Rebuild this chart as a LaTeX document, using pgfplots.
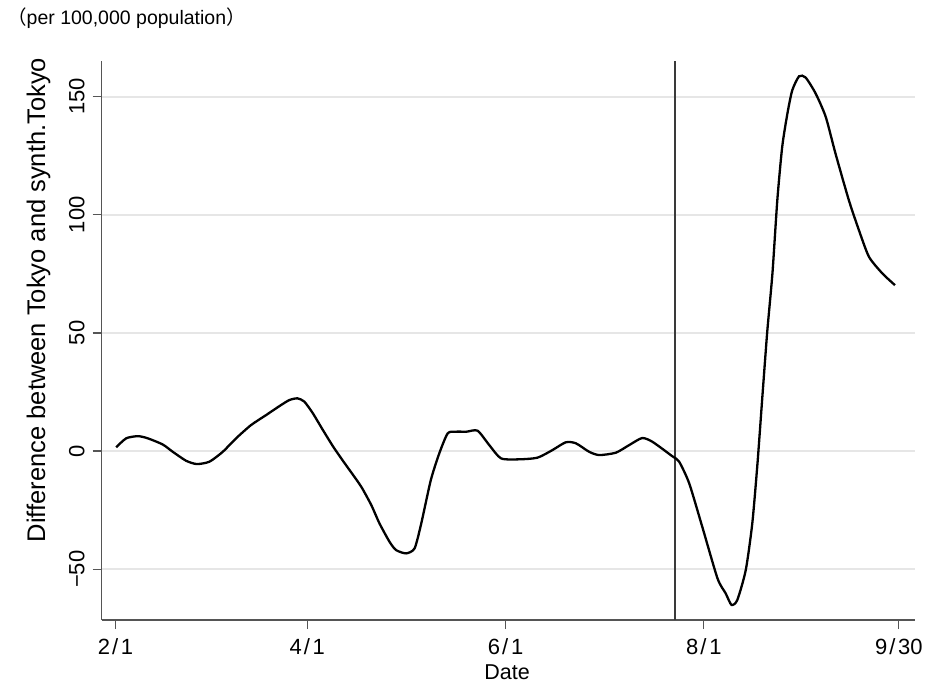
\documentclass[border=0pt]{standalone}
\usepackage{fontspec}
\setmainfont{Liberation Sans}
\newfontfamily\cjk{Noto Sans CJK JP}
\usepackage{pgfplots}
\pgfplotsset{compat=1.18}
\definecolor{gridgray}{HTML}{E6E6E6}
\definecolor{axgray}{HTML}{555555}
\definecolor{vlgray}{HTML}{3A3A3A}
\newcommand{\dsl}{\kern2pt/\kern2.8pt}
\begin{document}
\begin{tikzpicture}
\path[use as bounding box] (0,0) rectangle (929pt,-684pt);
\node[anchor=base west, inner sep=0pt, font=\fontsize{19.5}{23}\selectfont] at (7pt,-25pt) {{\cjk （}per 100,000 population{\cjk ）}};
\node[rotate=90, anchor=base, inner sep=0pt, font=\fontsize{25.5}{30}\selectfont] at (45pt,-300pt) {Difference between Tokyo and synth.Tokyo};
\node[anchor=base, inner sep=0pt, font=\fontsize{21.5}{25}\selectfont] at (507pt,-679pt) {Date};
\begin{axis}[
  at={(101.7pt,-620pt)}, anchor=south west,
  scale only axis, width=813.3pt, height=559.3pt,
  xmin=-4.25, xmax=245.96, ymin=-71.5, ymax=165.2,
  axis x line*=bottom, axis y line*=left,
  axis line style={axgray, line width=1.3pt, -},
  xtick={0,59,120,181,241},
  xticklabels={2\dsl1,4\dsl1,6\dsl1,8\dsl1,9\dsl30},
  ytick={-50,0,50,100,150},
  yticklabels={−50,0,50,100,150},
  tick align=outside, major tick length=9pt,
  tick style={axgray, line width=1.2pt},
  ticklabel style={font=\fontsize{22}{26}\selectfont},
  /pgf/number format/assume math mode=true,
  yticklabel style={rotate=90, anchor=south, inner sep=0pt},
  yticklabel shift=8pt,
  xticklabel style={anchor=north, inner sep=0pt},
  xticklabel shift=9pt,
  ymajorgrids, grid style={gridgray, line width=1.8pt},
  clip=false,
]
\addplot[vlgray, line width=1.8pt] coordinates {(172,-71.5) (172,165.2)};
\addplot[black, line width=2.3pt, smooth, tension=0.4] coordinates {
(0.2,1.6) (3.3,5.4) (6.9,6.3) (9.9,5.4) (14.5,2.8) (17.6,-0.3) (21.7,-4.1) (25,-5.5) (28.9,-4.5) (33,-0.3) (37.1,5.4) (41.7,11) (46.3,15.2) (50.4,19) (53.5,21.6) (56,22.3) (58.1,20.9) (60.7,16) (63.8,8.9) (66.9,2.0) (70,-4.2) (72.5,-9.0) (75.6,-15.1) (78.7,-22.9) (81.2,-30.6) (84.3,-38.4) (86.3,-41.9) (89.4,-43.3) (92,-41.2) (94,-31) (97,-12.3) (99.6,-1) (102.2,7.5) (104.7,8.2) (108,8.2) (111.4,8.6) (115,2.5) (118.6,-3.1) (124.2,-3.5) (129.8,-2.8) (134.4,0.4) (138.5,3.7) (141.6,3.3) (145.7,-0.3) (148.8,-1.7) (153.9,-0.7) (158,2.5) (162,5.5) (165.2,3.9) (171.3,-2.2) (173.4,-4.5) (176.5,-13.7) (180.5,-32) (185.2,-53.9) (187.7,-60.2) (189.5,-65.1) (191.3,-63) (193.9,-50.3) (195.9,-30.6) (197.5,-5.2) (199,23) (200.5,50.5) (202.1,75.2) (203.6,106.2) (205.1,128.7) (206.7,142.8) (208.2,152.7) (210.3,158.6) (212.3,158.1) (215.4,151.3) (218.5,141.4) (221.5,125.9) (225.6,106.2) (228.7,93.5) (231.8,82.2) (235.9,75.2) (239.8,70.2)
};
\end{axis}
\end{tikzpicture}
\end{document}
